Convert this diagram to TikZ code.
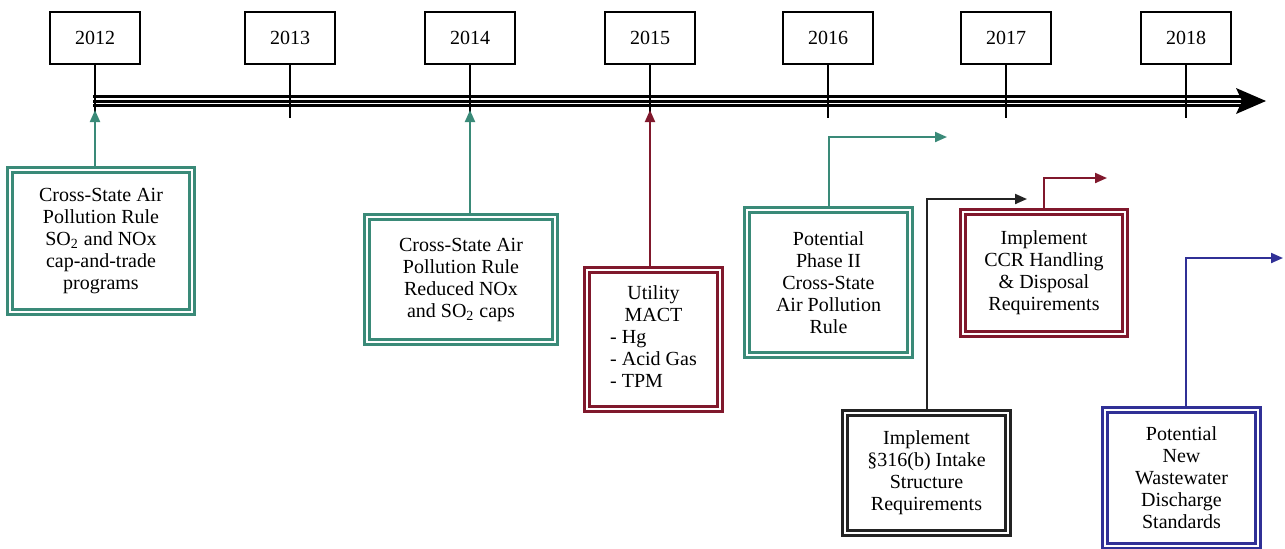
\documentclass[tikz,border=0pt]{standalone}
\usepackage{fontspec}
\setmainfont{Liberation Serif}
\usepackage{tikz}
\usetikzlibrary{arrows.meta,shapes}

\definecolor{rulegreen}{RGB}{58,138,120}
\definecolor{rulered}{RGB}{128,24,44}
\definecolor{ruleblue}{RGB}{48,48,150}
\definecolor{ruleblack}{RGB}{35,35,35}
\newcommand{\boxline}{1.3pt}
\newcommand{\boxgap}{1.2pt}
\newcommand{\textsize}{\fontsize{10}{11}\selectfont}

\begin{document}
\begin{tikzpicture}[x=0.5pt,y=-0.5pt]
  \useasboundingbox (0,0) rectangle (1285,548);
  \begin{scope}
    %\draw[help lines] (0,0) grid[step=50] (1285,548);
    \tikzset{
      yearbox/.style = {draw, line width=0.7pt, minimum width=45pt, minimum height=26pt, inner sep=0pt, font=\textsize},
      yeartick/.style = {line width=0.7pt},
      rulebox/.style = {draw=#1, line width=\boxline, double=white, double distance=\boxgap, align=center, inner sep=0pt, font=\textsize},
      rulearrow/.style = {draw=#1, line width=1pt, -{Triangle[length=6pt,width=5pt]}}
    }

    % years
    \node[yearbox] (y2012) at (95,38) {2012};
    \node[yearbox] (y2013) at (290,38) {2013};
    \node[yearbox] (y2014) at (470,38) {2014};
    \node[yearbox] (y2015) at (650,38) {2015};
    \node[yearbox] (y2016) at (828,38) {2016};
    \node[yearbox] (y2017) at (1006,38) {2017};
    \node[yearbox] (y2018) at (1186,38) {2018};

    \coordinate (tl0) at (93,101);
    \coordinate (tl1) at (1242,101);
    \coordinate (tke) at (0,118);
    \coordinate (tlb) at (0,110);

    % time line
    \draw[line width=6pt] (tl0) -- (tl1);
    \draw[line width=3.4pt, white] (tl0) -- (tl1);
    \draw[line width=1.5pt] (tl0) -- (tl1);
    \fill (1236,88) -- (1266,101) -- (1236,114) -- (1242,101) -- cycle;

    \foreach \yr in {2012,...,2018}
      \draw[yeartick] (y\yr.south) -- (y\yr |- tke);

    % rules
    \node[rulebox=rulegreen, minimum width=91pt, minimum height=71pt] (csapr) at (101,241)
      {Cross-State Air\\Pollution Rule\\SO\textsubscript{2} and NOx\\cap-and-trade\\programs};
    \node[rulebox=rulegreen, minimum width=94pt, minimum height=62.5pt] (csaprb) at (461,279.5)
      {Cross-State Air\\Pollution Rule\\Reduced NOx\\and SO\textsubscript{2} caps};
    \node[rulebox=rulered, minimum width=66.5pt, minimum height=69.5pt] (mact) at (653.5,339.5)
      {\begin{tabular}{@{}l@{}}\multicolumn{1}{@{}c@{}}{Utility}\\\multicolumn{1}{@{}c@{}}{MACT}\\- Hg\\- Acid Gas\\- TPM\end{tabular}};
    \node[rulebox=rulegreen, minimum width=81.5pt, minimum height=72.5pt] (phase2) at (828.5,282.5)
      {Potential\\Phase II\\Cross-State\\Air Pollution\\Rule};
    \node[rulebox=rulered, minimum width=81pt, minimum height=61pt] (ccr) at (1044,273)
      {Implement\\CCR Handling\\\& Disposal\\Requirements};
    \node[rulebox=ruleblack, minimum width=81.5pt, minimum height=60pt] (intake) at (926.5,473)
      {Implement\\§316(b) Intake\\Structure\\Requirements};
    \node[rulebox=ruleblue, minimum width=76.5pt, minimum height=68pt] (ww) at (1181.5,478)
      {Potential\\New\\Wastewater\\Discharge\\Standards};

    \coordinate (p2end) at (947,137);
    \coordinate (ccrend) at (1107,178);
    \coordinate (inend) at (1027,199);
    \coordinate (wwend) at (1283,258);

    \draw[rulearrow=rulegreen] (csapr.north -| y2012) -- (y2012 |- tlb);
    \draw[rulearrow=rulegreen] (csaprb.north -| y2014) -- (y2014 |- tlb);
    \draw[rulearrow=rulered] (mact.north -| y2015) -- (y2015 |- tlb);
    \draw[rulearrow=rulegreen] (phase2.north) |- (p2end);
    \draw[rulearrow=rulered] (ccr.north) |- (ccrend);
    \draw[rulearrow=ruleblack] (intake.north) |- (inend);
    \draw[rulearrow=ruleblue] (ww.north -| y2018) |- (wwend);
  \end{scope}
\end{tikzpicture}
\end{document}
